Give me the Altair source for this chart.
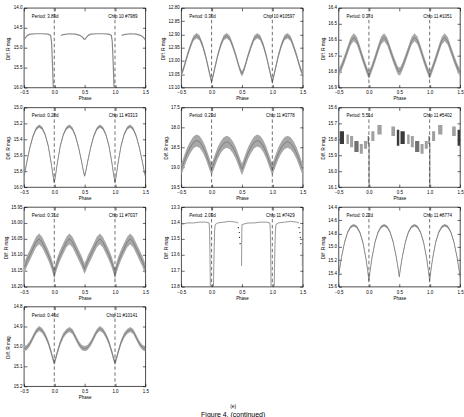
import altair as alt
import pandas as pd

FONT = "Liberation Sans"
W, H = 122, 80

PERIOD_LABELS = ["Period: 3.89d", "Period: 0.30d", "Period: 0.37d", "Period: 0.28d", "Period: 0.23d",
                 "Period: 5.51d", "Period: 0.31d", "Period: 2.03d", "Period: 0.22d", "Period: 0.46d"]
CHIP_LABELS = ["Chip 10 #7989", "Chip 10 #10597", "Chip 11 #1051", "Chip 11 #3313", "Chip 11 #3778",
               "Chip 11 #5402", "Chip 11 #7037", "Chip 11 #7429", "Chip 11 #8774", "Chip 11 #10141"]

Y_DOMAINS = [(14.0, 16.0), (12.80, 13.10), (16.4, 16.9), (15.0, 16.0), (17.5, 19.5),
             (15.6, 16.1), (15.95, 16.20), (13.3, 13.8), (14.4, 15.6), (14.8, 15.2)]
Y_TICKS = [
    [14.0, 14.5, 15.0, 15.5, 16.0],
    [12.80, 12.85, 12.90, 12.95, 13.00, 13.05, 13.10],
    [16.4, 16.5, 16.6, 16.7, 16.8, 16.9],
    [15.0, 15.2, 15.4, 15.6, 15.8, 16.0],
    [17.5, 18.0, 18.5, 19.0, 19.5],
    [15.6, 15.7, 15.8, 15.9, 16.0, 16.1],
    [15.95, 16.00, 16.05, 16.10, 16.15, 16.20],
    [13.3, 13.4, 13.5, 13.6, 13.7, 13.8],
    [14.4, 14.6, 14.8, 15.0, 15.2, 15.4, 15.6],
    [14.8, 14.9, 15.0, 15.1, 15.2],
]
Y_FORMATS = [".1f", ".2f", ".1f", ".1f", ".1f", ".1f", ".2f", ".1f", ".1f", ".1f"]
X_TICKS = [-0.5, 0.0, 0.5, 1.0, 1.5]
DASH_PHASES = [0.0, 1.0]

# one phased cycle, -0.5 .. 0.5 (the plot shows it twice)
PH = [-0.5, -0.48, -0.45, -0.4, -0.35, -0.3, -0.25, -0.2, -0.15, -0.1, -0.05, -0.02, 0.0,
      0.02, 0.05, 0.1, 0.15, 0.2, 0.25, 0.3, 0.35, 0.4, 0.45, 0.48, 0.5]
MID_P2 = [13.048, 13.04, 13.02, 12.98, 12.945, 12.915, 12.905, 12.912, 12.94, 12.98, 13.03, 13.06, 13.078,
          13.06, 13.03, 12.98, 12.94, 12.912, 12.905, 12.915, 12.945, 12.98, 13.02, 13.04, 13.048]
MID_P3 = [16.80, 16.795, 16.77, 16.72, 16.665, 16.61, 16.585, 16.605, 16.66, 16.72, 16.775, 16.805, 16.82,
          16.805, 16.775, 16.72, 16.66, 16.605, 16.585, 16.61, 16.665, 16.72, 16.77, 16.795, 16.80]
MID_P4 = [15.86, 15.80, 15.68, 15.50, 15.36, 15.27, 15.235, 15.26, 15.34, 15.48, 15.70, 15.86, 15.94,
          15.86, 15.70, 15.48, 15.34, 15.26, 15.235, 15.27, 15.36, 15.50, 15.68, 15.80, 15.86]
MID_P5 = [19.05, 18.98, 18.85, 18.65, 18.50, 18.38, 18.33, 18.36, 18.47, 18.63, 18.85, 18.98, 19.05,
          18.98, 18.85, 18.65, 18.50, 18.40, 18.36, 18.40, 18.50, 18.65, 18.85, 18.98, 19.05]
MID_P7 = [16.14, 16.135, 16.12, 16.10, 16.08, 16.06, 16.05, 16.06, 16.08, 16.10, 16.125, 16.145, 16.16,
          16.145, 16.125, 16.10, 16.08, 16.06, 16.05, 16.06, 16.08, 16.10, 16.12, 16.135, 16.145]
MID_P9 = [15.45, 15.32, 15.15, 14.93, 14.78, 14.70, 14.675, 14.70, 14.78, 14.93, 15.17, 15.36, 15.51,
          15.36, 15.17, 14.93, 14.78, 14.70, 14.675, 14.70, 14.78, 14.93, 15.15, 15.32, 15.45]
MID_P10 = [15.01, 15.01, 15.005, 14.985, 14.955, 14.925, 14.91, 14.92, 14.945, 14.98, 15.03, 15.065, 15.08,
           15.065, 15.03, 14.98, 14.945, 14.925, 14.915, 14.925, 14.955, 14.985, 15.005, 15.01, 15.01]
BAND_MIDS = {1: MID_P2, 2: MID_P3, 3: MID_P4, 4: MID_P5, 6: MID_P7, 8: MID_P9, 9: MID_P10}
BAND_HALF = {1: 0.010, 2: 0.025, 3: 0.02, 4: 0.15, 6: 0.017, 8: 0.02, 9: 0.013}

# panel 1 (detached eclipsing, eclipse partly covered)
P1_PHASE = [-0.5, -0.47, -0.44, -0.4, -0.3, -0.2, -0.1, -0.06, -0.045, -0.035, -0.025, -0.015,
            0.11, 0.15, 0.25, 0.35, 0.42, 0.46, 0.5]
P1_MAG = [14.80, 14.74, 14.69, 14.66, 14.65, 14.65, 14.66, 14.69, 14.85, 15.2, 15.6, 16.05,
          14.69, 14.67, 14.65, 14.66, 14.69, 14.73, 14.80]
P1_SEG = [0] * 12 + [1] * 7

# panel 8
P8_PHASE = [-0.5, -0.4, -0.3, -0.2, -0.1, -0.04, -0.033, -0.028, -0.024, -0.02,
            0.03, 0.036, 0.043, 0.05, 0.06, 0.1, 0.2, 0.3, 0.4, 0.44,
            0.493, 0.496, 0.498, 0.5]
P8_MAG = [13.41, 13.40, 13.40, 13.395, 13.395, 13.40, 13.45, 13.55, 13.68, 13.82,
          13.82, 13.68, 13.55, 13.45, 13.41, 13.40, 13.395, 13.39, 13.395, 13.40,
          13.67, 13.55, 13.46, 13.41]
P8_SEG = [0] * 10 + [1] * 10 + [2] * 4
P8_DOT_PHASE = [0.44, 0.455, 0.46, 0.47]
P8_DOT_MAG = [13.43, 13.46, 13.49, 13.53]

# panel 6 (clumps of nightly data)
P6_P0 = [-0.48, -0.37, -0.31, -0.24, -0.15, -0.08, -0.02, 0.04, 0.14, 0.37, 0.46]
P6_P1 = [-0.41, -0.33, -0.26, -0.17, -0.10, -0.03, 0.0, 0.09, 0.21, 0.43, 0.5]
P6_LO = [15.75, 15.77, 15.78, 15.81, 15.83, 15.81, 15.78, 15.75, 15.71, 15.72, 15.74]
P6_HI = [15.83, 15.83, 15.85, 15.88, 15.89, 15.86, 15.83, 15.81, 15.77, 15.78, 15.84]
P6_SHADE = ["k", "g", "g", "d", "g", "g", "d", "g", "g", "g", "k"]
P6_SPIKE_PHASE = [0.003]
P6_SPIKE_LO = [15.82]
P6_SPIKE_HI = [16.1]

SHADE_COLORS = {"k": "#3a3a3a", "d": "#707070", "g": "#a0a0a0"}


def two_cycles(df, cols):
    d2 = df.copy()
    for c in cols:
        d2[c] = d2[c] + 1.0
    if "seg" in d2:
        d2["seg"] = d2["seg"] + 10
    return pd.concat([df, d2], ignore_index=True)


def scales(i):
    lo, hi = Y_DOMAINS[i]
    xs = alt.Scale(domain=[-0.5, 1.5], nice=False, zero=False)
    ys = alt.Scale(domain=[lo, hi], reverse=True, nice=False, zero=False)
    return xs, ys


def axis_layers(i, df, xf, yf):
    xs, ys = scales(i)
    main = alt.Chart(df).mark_point(opacity=0, size=1).encode(
        x=alt.X(f"{xf}:Q", scale=xs, axis=alt.Axis(
            values=X_TICKS, format=".1f", title="Phase", orient="bottom", offset=-3, tickSize=3,
            domain=False, grid=False, labelPadding=2.5, titlePadding=1.5, labelFlush=False,
            labelOverlap=False)),
        y=alt.Y(f"{yf}:Q", scale=ys, axis=alt.Axis(
            values=Y_TICKS[i], format=Y_FORMATS[i], title="Diff. R mag.", orient="left", offset=-3,
            tickSize=3, domain=False, grid=False, labelPadding=2, titlePadding=2.5,
            labelOverlap=False)),
    )
    mirror = alt.Chart(df).mark_point(opacity=0, size=1).encode(
        x=alt.X(f"{xf}:Q", scale=xs, axis=alt.Axis(
            values=X_TICKS, orient="top", labels=False, title=None, offset=-3, tickSize=3,
            domain=False, grid=False)),
        y=alt.Y(f"{yf}:Q", scale=ys, axis=alt.Axis(
            values=Y_TICKS[i], orient="right", labels=False, title=None, offset=-3, tickSize=3,
            domain=False, grid=False)),
    )
    return [main, mirror]


def common_layers(i):
    xs, ys = scales(i)
    dash = alt.Chart(pd.DataFrame({"phase": DASH_PHASES})).mark_rule(
        color="#333333", strokeWidth=0.7, strokeDash=[3.5, 2.5]).encode(
        x=alt.X("phase:Q", scale=xs, axis=None))
    t1 = alt.Chart(pd.DataFrame({"t": [PERIOD_LABELS[i]]})).mark_text(
        align="left", baseline="middle", fontSize=4.5, font=FONT, color="black").encode(
        x=alt.value(8), y=alt.value(9), text="t:N")
    t2 = alt.Chart(pd.DataFrame({"t": [CHIP_LABELS[i]]})).mark_text(
        align="right", baseline="middle", fontSize=4.5, font=FONT, color="black").encode(
        x=alt.value(W - 8), y=alt.value(9), text="t:N")
    return [dash], [t1, t2]


def band_panel(i):
    xs, ys = scales(i)
    mid = BAND_MIDS[i]
    hw = BAND_HALF[i]
    df = pd.DataFrame({"phase": PH, "mag": mid})
    df["lo"] = df["mag"] - hw
    df["hi"] = df["mag"] + hw
    df = two_cycles(df, ["phase"])
    area = alt.Chart(df).mark_area(color="#a8a8a8", clip=True).encode(
        x=alt.X("phase:Q", scale=xs, axis=None),
        y=alt.Y("lo:Q", scale=ys, axis=None), y2="hi:Q")
    line = alt.Chart(df).mark_line(color="#6f6f6f", strokeWidth=0.7, clip=True).encode(
        x=alt.X("phase:Q", scale=xs, axis=None),
        y=alt.Y("mag:Q", scale=ys, axis=None))
    dash, texts = common_layers(i)
    return [area, line] + dash + texts + axis_layers(i, df, "phase", "mag")


def line_panel(i, phase, mag, seg, width, dots=None):
    xs, ys = scales(i)
    df = pd.DataFrame({"phase": phase, "mag": mag, "seg": seg})
    df = two_cycles(df, ["phase"])
    line = alt.Chart(df).mark_line(color="#8a8a8a", strokeWidth=width, clip=True).encode(
        x=alt.X("phase:Q", scale=xs, axis=None),
        y=alt.Y("mag:Q", scale=ys, axis=None),
        detail="seg:N")
    layers = [line]
    if dots is not None:
        dd = two_cycles(pd.DataFrame({"phase": dots[0], "mag": dots[1]}), ["phase"])
        layers.append(alt.Chart(dd).mark_circle(color="black", size=1.5, opacity=1, clip=True).encode(
            x=alt.X("phase:Q", scale=xs, axis=None),
            y=alt.Y("mag:Q", scale=ys, axis=None)))
    dash, texts = common_layers(i)
    return layers + dash + texts + axis_layers(i, df, "phase", "mag")


def clump_panel(i):
    xs, ys = scales(i)
    df = pd.DataFrame({"p0": P6_P0, "p1": P6_P1, "lo": P6_LO, "hi": P6_HI, "shade": P6_SHADE})
    df = two_cycles(df, ["p0", "p1"])
    df["mag"] = (df["lo"] + df["hi"]) / 2
    rects = alt.Chart(df).mark_rect(clip=True).encode(
        x=alt.X("p0:Q", scale=xs, axis=None), x2="p1:Q",
        y=alt.Y("lo:Q", scale=ys, axis=None), y2="hi:Q",
        color=alt.Color("shade:N", scale=alt.Scale(domain=list(SHADE_COLORS.keys()),
                                                    range=list(SHADE_COLORS.values())), legend=None))
    sp = two_cycles(pd.DataFrame({"phase": P6_SPIKE_PHASE, "lo": P6_SPIKE_LO, "hi": P6_SPIKE_HI}), ["phase"])
    spike = alt.Chart(sp).mark_rule(color="#555555", strokeWidth=0.8, clip=True).encode(
        x=alt.X("phase:Q", scale=xs, axis=None),
        y=alt.Y("lo:Q", scale=ys, axis=None), y2="hi:Q")
    dash, texts = common_layers(i)
    return [rects, spike] + dash + texts + axis_layers(i, df, "p0", "mag")


panels = []
for i in range(10):
    if i == 0:
        layers = line_panel(0, P1_PHASE, P1_MAG, P1_SEG, 1.2)
    elif i == 7:
        layers = line_panel(7, P8_PHASE, P8_MAG, P8_SEG, 0.9, dots=(P8_DOT_PHASE, P8_DOT_MAG))
    elif i == 5:
        layers = clump_panel(5)
    else:
        layers = band_panel(i)
    p = alt.layer(*layers).resolve_axis(x="independent", y="independent").properties(width=W, height=H)
    panels.append(p)

chart = alt.concat(*panels, columns=3, spacing={"row": 20, "column": 36}, bounds="flush").properties(
    padding={"left": 2, "top": 3, "right": 0, "bottom": 0},
    title=alt.TitleParams(text="(e)", subtitle="Figure 4. (continued)", orient="bottom", anchor="middle",
                          fontSize=5, font=FONT, fontWeight="normal", subtitleFont=FONT,
                          subtitleFontSize=7, subtitlePadding=2, offset=5, color="black",
                          subtitleColor="black"),
    background="white",
).configure_view(stroke="black", strokeWidth=0.7).configure_axis(
    labelFont=FONT, titleFont=FONT, labelFontSize=4.5, titleFontSize=4.5, titleFontWeight="normal",
    labelColor="black", titleColor="black", tickColor="black", tickWidth=0.6)

chart.save("out.html", embed_options={"renderer": "svg", "actions": False})
